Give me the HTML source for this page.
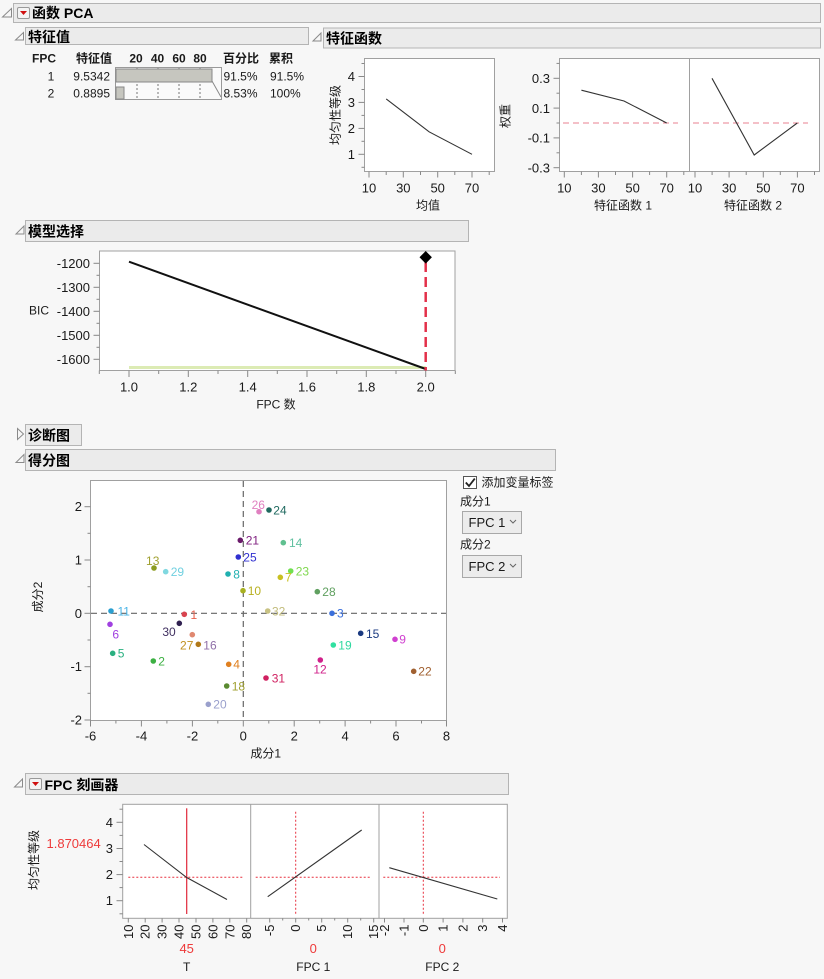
<!DOCTYPE html>
<html><head><meta charset="utf-8"><style>
html,body{margin:0;padding:0;background:#f7f7f7;}
svg{display:block;}
text{font-family:"Liberation Sans","Noto Sans CJK SC",sans-serif;fill:#1a1a1a;}
.h{font-size:14px;font-weight:bold;fill:#000;}
.t{font-size:12px;}
.t13{font-size:13px;}
.b{font-weight:bold;}
.hb{fill:#ebebeb;stroke:#b4b4b4;stroke-width:1;}
.fr{fill:#fff;stroke:#a0a0a0;stroke-width:1;}
.tk{stroke:#888;stroke-width:1;}
.tri{fill:none;stroke:#8a8a8a;stroke-width:1;}
.ln{fill:none;stroke:#333;stroke-width:1.1;}
.red{fill:#ee3a3a;}
</style></head><body>
<svg width="824" height="979" viewBox="0 0 824 979" xmlns="http://www.w3.org/2000/svg">
<rect width="824" height="979" fill="#f7f7f7"/>

<!-- Header: 函数 PCA -->
<polygon class="tri" points="11.5,8.5 2.5,17 11.5,17"/>
<rect class="hb" x="13.5" y="3.5" width="807" height="19"/>
<rect x="17.5" y="7.5" width="12" height="11" rx="1.5" fill="#f4f4f4" stroke="#999"/>
<polygon points="20,11 27,11 23.5,15" fill="#d01010"/>
<text class="h" x="32" y="18">函数 PCA</text>

<!-- 特征值 -->
<polygon class="tri" points="23.5,32.5 15.5,40 23.5,40"/>
<rect class="hb" x="25.5" y="27.5" width="283" height="17"/>
<text class="h" x="28" y="42">特征值</text>

<text class="t b" x="32" y="62.5">FPC</text>
<text class="t b" x="76" y="62.5">特征值</text>
<text class="t b" x="136" y="62.5" text-anchor="middle">20</text>
<text class="t b" x="157.5" y="62.5" text-anchor="middle">40</text>
<text class="t b" x="179" y="62.5" text-anchor="middle">60</text>
<text class="t b" x="200" y="62.5" text-anchor="middle">80</text>
<text class="t b" x="223" y="62.5">百分比</text>
<text class="t b" x="269" y="62.5">累积</text>

<text class="t" x="51" y="80.5" text-anchor="middle">1</text>
<text class="t" x="110" y="80.5" text-anchor="end">9.5342</text>
<text class="t" x="223.5" y="80.5">91.5%</text>
<text class="t" x="270" y="80.5">91.5%</text>
<text class="t" x="51" y="97.5" text-anchor="middle">2</text>
<text class="t" x="110" y="97.5" text-anchor="end">0.8895</text>
<text class="t" x="223.5" y="97.5">8.53%</text>
<text class="t" x="270" y="97.5">100%</text>

<rect x="115.5" y="67.5" width="106" height="32" fill="#fafafa" stroke="#999"/>
<g stroke="#777" stroke-dasharray="2,2">
<line x1="137" y1="68" x2="137" y2="99"/><line x1="158" y1="68" x2="158" y2="99"/>
<line x1="179" y1="68" x2="179" y2="99"/><line x1="200" y1="68" x2="200" y2="99"/>
</g>
<rect x="116" y="69" width="96" height="13" fill="#c6c6bf" stroke="#888"/>
<rect x="116" y="87" width="8" height="12" fill="#c6c6bf" stroke="#888"/>
<polyline points="212,81 221,97" fill="none" stroke="#888"/>

<!-- 特征函数 -->
<polygon class="tri" points="321,33 313,41 321,41"/>
<rect class="hb" x="323.5" y="28" width="497" height="20"/>
<text class="h" x="326" y="43.5">特征函数</text>

<!-- Eigen plot 1 -->
<rect class="fr" x="364.5" y="58.5" width="130" height="113"/>
<g class="tk">
<line x1="358.5" y1="154.3" x2="364.5" y2="154.3"/><line x1="358.5" y1="128.4" x2="364.5" y2="128.4"/>
<line x1="358.5" y1="102.4" x2="364.5" y2="102.4"/><line x1="358.5" y1="76.5" x2="364.5" y2="76.5"/>
<line x1="361.5" y1="167.3" x2="364.5" y2="167.3"/><line x1="361.5" y1="141.3" x2="364.5" y2="141.3"/>
<line x1="361.5" y1="115.4" x2="364.5" y2="115.4"/><line x1="361.5" y1="89.5" x2="364.5" y2="89.5"/>
<line x1="361.5" y1="63.5" x2="364.5" y2="63.5"/>
<line x1="369" y1="171.5" x2="369" y2="177.5"/><line x1="386.2" y1="171.5" x2="386.2" y2="175"/>
<line x1="403.3" y1="171.5" x2="403.3" y2="177.5"/><line x1="420.5" y1="171.5" x2="420.5" y2="175"/>
<line x1="437.7" y1="171.5" x2="437.7" y2="177.5"/><line x1="454.8" y1="171.5" x2="454.8" y2="175"/>
<line x1="472" y1="171.5" x2="472" y2="177.5"/><line x1="489.2" y1="171.5" x2="489.2" y2="175"/>
</g>
<text class="t13" x="355" y="159" text-anchor="end">1</text>
<text class="t13" x="355" y="133" text-anchor="end">2</text>
<text class="t13" x="355" y="107" text-anchor="end">3</text>
<text class="t13" x="355" y="81" text-anchor="end">4</text>
<text class="t13" x="369" y="192.5" text-anchor="middle">10</text>
<text class="t13" x="403.3" y="192.5" text-anchor="middle">30</text>
<text class="t13" x="437.7" y="192.5" text-anchor="middle">50</text>
<text class="t13" x="472" y="192.5" text-anchor="middle">70</text>
<text class="t" x="428" y="209.5" text-anchor="middle">均值</text>
<text class="t" transform="translate(339.5,115) rotate(-90)" text-anchor="middle">均匀性等级</text>
<polyline class="ln" points="386.2,98.9 429.1,131.8 472,154.3"/>

<!-- Eigen plot 2 -->
<rect class="fr" x="559.5" y="58.5" width="260" height="113"/>
<line x1="689.5" y1="58.5" x2="689.5" y2="171.5" stroke="#a0a0a0"/>
<g class="tk">
<line x1="553.5" y1="78.3" x2="559.5" y2="78.3"/><line x1="553.5" y1="108.1" x2="559.5" y2="108.1"/>
<line x1="553.5" y1="137.9" x2="559.5" y2="137.9"/><line x1="553.5" y1="167.7" x2="559.5" y2="167.7"/>
<line x1="556.5" y1="63.4" x2="559.5" y2="63.4"/><line x1="556.5" y1="93.2" x2="559.5" y2="93.2"/>
<line x1="556.5" y1="123" x2="559.5" y2="123"/><line x1="556.5" y1="152.8" x2="559.5" y2="152.8"/>
<line x1="564.3" y1="171.5" x2="564.3" y2="177.5"/><line x1="581.4" y1="171.5" x2="581.4" y2="175"/>
<line x1="598.4" y1="171.5" x2="598.4" y2="177.5"/><line x1="615.5" y1="171.5" x2="615.5" y2="175"/>
<line x1="632.6" y1="171.5" x2="632.6" y2="177.5"/><line x1="649.6" y1="171.5" x2="649.6" y2="175"/>
<line x1="666.7" y1="171.5" x2="666.7" y2="177.5"/><line x1="683.8" y1="171.5" x2="683.8" y2="175"/>
<line x1="695" y1="171.5" x2="695" y2="177.5"/><line x1="712.1" y1="171.5" x2="712.1" y2="175"/>
<line x1="729.1" y1="171.5" x2="729.1" y2="177.5"/><line x1="746.2" y1="171.5" x2="746.2" y2="175"/>
<line x1="763.3" y1="171.5" x2="763.3" y2="177.5"/><line x1="780.3" y1="171.5" x2="780.3" y2="175"/>
<line x1="797.4" y1="171.5" x2="797.4" y2="177.5"/><line x1="814.5" y1="171.5" x2="814.5" y2="175"/>
</g>
<text class="t13" x="550" y="83" text-anchor="end">0.3</text>
<text class="t13" x="550" y="112.8" text-anchor="end">0.1</text>
<text class="t13" x="550" y="142.6" text-anchor="end">-0.1</text>
<text class="t13" x="550" y="172.4" text-anchor="end">-0.3</text>
<text class="t13" x="564.3" y="192.5" text-anchor="middle">10</text>
<text class="t13" x="598.4" y="192.5" text-anchor="middle">30</text>
<text class="t13" x="632.6" y="192.5" text-anchor="middle">50</text>
<text class="t13" x="666.7" y="192.5" text-anchor="middle">70</text>
<text class="t13" x="695" y="192.5" text-anchor="middle">10</text>
<text class="t13" x="729.1" y="192.5" text-anchor="middle">30</text>
<text class="t13" x="763.3" y="192.5" text-anchor="middle">50</text>
<text class="t13" x="797.4" y="192.5" text-anchor="middle">70</text>
<text class="t" x="623" y="209.5" text-anchor="middle">特征函数 1</text>
<text class="t" x="753" y="209.5" text-anchor="middle">特征函数 2</text>
<text class="t" transform="translate(509.5,116) rotate(-90)" text-anchor="middle">权重</text>
<g stroke="#e88090" stroke-width="1" stroke-dasharray="6,4">
<line x1="563" y1="123" x2="678" y2="123"/>
<line x1="693" y1="123" x2="808" y2="123"/>
</g>
<polyline class="ln" points="581.4,90.2 624,101 666.7,123"/>
<polyline class="ln" points="712,78.3 754.2,155 797.3,123"/>

<!-- 模型选择 -->
<polygon class="tri" points="24,226 16,234 24,234"/>
<rect class="hb" x="25.5" y="220.5" width="443" height="21"/>
<text class="h" x="28" y="236.5">模型选择</text>

<rect class="fr" x="99.5" y="251" width="355.5" height="119.5"/>
<g class="tk">
<line x1="93.5" y1="263.3" x2="99.5" y2="263.3"/><line x1="93.5" y1="287.3" x2="99.5" y2="287.3"/>
<line x1="93.5" y1="311.3" x2="99.5" y2="311.3"/><line x1="93.5" y1="335.3" x2="99.5" y2="335.3"/>
<line x1="93.5" y1="359.3" x2="99.5" y2="359.3"/>
<line x1="96.5" y1="275.3" x2="99.5" y2="275.3"/><line x1="96.5" y1="299.3" x2="99.5" y2="299.3"/>
<line x1="96.5" y1="323.3" x2="99.5" y2="323.3"/><line x1="96.5" y1="347.3" x2="99.5" y2="347.3"/>
<line x1="99.3" y1="370.5" x2="99.3" y2="374"/><line x1="129" y1="370.5" x2="129" y2="377"/>
<line x1="158.7" y1="370.5" x2="158.7" y2="374"/><line x1="188.3" y1="370.5" x2="188.3" y2="377"/>
<line x1="218" y1="370.5" x2="218" y2="374"/><line x1="247.7" y1="370.5" x2="247.7" y2="377"/>
<line x1="277.3" y1="370.5" x2="277.3" y2="374"/><line x1="307" y1="370.5" x2="307" y2="377"/>
<line x1="336.7" y1="370.5" x2="336.7" y2="374"/><line x1="366.3" y1="370.5" x2="366.3" y2="377"/>
<line x1="396" y1="370.5" x2="396" y2="374"/><line x1="425.7" y1="370.5" x2="425.7" y2="377"/>
<line x1="455.3" y1="370.5" x2="455.3" y2="374"/>
</g>
<text class="t13" x="90" y="268" text-anchor="end">-1200</text>
<text class="t13" x="90" y="292" text-anchor="end">-1300</text>
<text class="t13" x="90" y="316" text-anchor="end">-1400</text>
<text class="t13" x="90" y="340" text-anchor="end">-1500</text>
<text class="t13" x="90" y="364" text-anchor="end">-1600</text>
<text class="t13" x="129" y="391.5" text-anchor="middle">1.0</text>
<text class="t13" x="188.3" y="391.5" text-anchor="middle">1.2</text>
<text class="t13" x="247.7" y="391.5" text-anchor="middle">1.4</text>
<text class="t13" x="307" y="391.5" text-anchor="middle">1.6</text>
<text class="t13" x="366.3" y="391.5" text-anchor="middle">1.8</text>
<text class="t13" x="425.7" y="391.5" text-anchor="middle">2.0</text>
<text class="t" x="276" y="408.5" text-anchor="middle">FPC 数</text>
<text class="t" x="29" y="314.5">BIC</text>
<line x1="129" y1="367.5" x2="425.7" y2="367.5" stroke="#dcebb4" stroke-width="3"/>
<line x1="129" y1="261.7" x2="425.7" y2="369" stroke="#111" stroke-width="2"/>
<line x1="425.7" y1="262" x2="425.7" y2="370.5" stroke="#e3304a" stroke-width="2.5" stroke-dasharray="10,5"/>
<polygon points="425.7,251 431.9,257.3 425.7,263.6 419.5,257.3" fill="#000"/>

<!-- 诊断图 -->
<polygon class="tri" points="17.5,428.5 23.5,434 17.5,439.5"/>
<rect class="hb" x="25.5" y="424.5" width="56" height="21"/>
<text class="h" x="28" y="440.5">诊断图</text>

<!-- 得分图 -->
<polygon class="tri" points="24,454.5 16,462.5 24,462.5"/>
<rect class="hb" x="25.5" y="449.5" width="530" height="21"/>
<text class="h" x="28" y="465.5">得分图</text>

<rect class="fr" x="90.5" y="480.5" width="356" height="240"/>
<g class="tk">
<line x1="84.5" y1="720" x2="90.5" y2="720"/><line x1="84.5" y1="666.7" x2="90.5" y2="666.7"/>
<line x1="84.5" y1="613.3" x2="90.5" y2="613.3"/><line x1="84.5" y1="560" x2="90.5" y2="560"/>
<line x1="84.5" y1="506.7" x2="90.5" y2="506.7"/>
<line x1="87.5" y1="693.3" x2="90.5" y2="693.3"/><line x1="87.5" y1="640" x2="90.5" y2="640"/>
<line x1="87.5" y1="586.7" x2="90.5" y2="586.7"/><line x1="87.5" y1="533.3" x2="90.5" y2="533.3"/>
<line x1="90.5" y1="720.5" x2="90.5" y2="726.5"/><line x1="115.9" y1="720.5" x2="115.9" y2="723.5"/>
<line x1="141.4" y1="720.5" x2="141.4" y2="726.5"/><line x1="166.9" y1="720.5" x2="166.9" y2="723.5"/>
<line x1="192.4" y1="720.5" x2="192.4" y2="726.5"/><line x1="217.8" y1="720.5" x2="217.8" y2="723.5"/>
<line x1="243.3" y1="720.5" x2="243.3" y2="726.5"/><line x1="268.8" y1="720.5" x2="268.8" y2="723.5"/>
<line x1="294.2" y1="720.5" x2="294.2" y2="726.5"/><line x1="319.7" y1="720.5" x2="319.7" y2="723.5"/>
<line x1="345.1" y1="720.5" x2="345.1" y2="726.5"/><line x1="370.6" y1="720.5" x2="370.6" y2="723.5"/>
<line x1="396" y1="720.5" x2="396" y2="726.5"/><line x1="421.5" y1="720.5" x2="421.5" y2="723.5"/>
<line x1="446.5" y1="720.5" x2="446.5" y2="726.5"/>
</g>
<text class="t13" x="82" y="724.5" text-anchor="end">-2</text>
<text class="t13" x="82" y="671.2" text-anchor="end">-1</text>
<text class="t13" x="82" y="617.8" text-anchor="end">0</text>
<text class="t13" x="82" y="564.5" text-anchor="end">1</text>
<text class="t13" x="82" y="511.2" text-anchor="end">2</text>
<text class="t13" x="90.5" y="740.5" text-anchor="middle">-6</text>
<text class="t13" x="141.4" y="740.5" text-anchor="middle">-4</text>
<text class="t13" x="192.4" y="740.5" text-anchor="middle">-2</text>
<text class="t13" x="243.3" y="740.5" text-anchor="middle">0</text>
<text class="t13" x="294.2" y="740.5" text-anchor="middle">2</text>
<text class="t13" x="345.1" y="740.5" text-anchor="middle">4</text>
<text class="t13" x="396" y="740.5" text-anchor="middle">6</text>
<text class="t13" x="446.5" y="740.5" text-anchor="middle">8</text>
<text class="t" x="265.7" y="757.5" text-anchor="middle">成分1</text>
<text class="t" transform="translate(42,597) rotate(-90)" text-anchor="middle">成分2</text>
<g stroke="#666" stroke-width="1.2" stroke-dasharray="6,4">
<line x1="91" y1="613.3" x2="446" y2="613.3"/>
<line x1="243.3" y1="481" x2="243.3" y2="720"/>
</g>

<!-- points -->
<g>
<circle cx="111" cy="611" r="2.8" fill="#2b9fd0"/><text class="t" x="117.5" y="615.3" style="fill:#4ab4e6">11</text>
<circle cx="184.3" cy="614.3" r="2.8" fill="#d9434f"/><text class="t" x="190.5" y="618.8" style="fill:#e8604c">1</text>
<circle cx="267.7" cy="611" r="2.8" fill="#c8c283"/><text class="t" x="272" y="615.3" style="fill:#c2bc7c">32</text>
<circle cx="332" cy="613.3" r="2.8" fill="#3a6fdc"/><text class="t" x="337" y="617.6" style="fill:#3a6fdc">3</text>
<circle cx="110" cy="624.3" r="2.8" fill="#a040e0"/><text class="t" x="115.7" y="638.3" text-anchor="middle" style="fill:#a040e0">6</text>
<circle cx="179.3" cy="623.3" r="2.8" fill="#302050"/><text class="t" x="169" y="636" text-anchor="middle" style="fill:#403060">30</text>
<circle cx="192.3" cy="634.7" r="2.8" fill="#e08870"/><text class="t" x="186.7" y="649.6" text-anchor="middle" style="fill:#c09020">27</text>
<circle cx="198.3" cy="644.3" r="2.8" fill="#b07818"/><text class="t" x="203.3" y="649.3" style="fill:#9070a8">16</text>
<circle cx="360.7" cy="633.3" r="2.8" fill="#1a3a80"/><text class="t" x="366" y="637.8" style="fill:#1a3a80">15</text>
<circle cx="395" cy="639.3" r="2.8" fill="#d040d0"/><text class="t" x="399.3" y="643.6" style="fill:#d040d0">9</text>
<circle cx="333.3" cy="645" r="2.8" fill="#30e0a0"/><text class="t" x="338.3" y="649.3" style="fill:#30d8a0">19</text>
<circle cx="112.7" cy="653.3" r="2.8" fill="#2ab080"/><text class="t" x="117.7" y="657.6" style="fill:#2ab080">5</text>
<circle cx="153.3" cy="661" r="2.8" fill="#3cb043"/><text class="t" x="158.3" y="665.3" style="fill:#3cb043">2</text>
<circle cx="228.7" cy="664.3" r="2.8" fill="#e08020"/><text class="t" x="233.3" y="668.6" style="fill:#e08020">4</text>
<circle cx="320.3" cy="660" r="2.8" fill="#d0208a"/><text class="t" x="320" y="673.5" text-anchor="middle" style="fill:#d0208a">12</text>
<circle cx="413.7" cy="671.3" r="2.8" fill="#a06030"/><text class="t" x="418.3" y="675.6" style="fill:#a06030">22</text>
<circle cx="266" cy="678" r="2.8" fill="#d02060"/><text class="t" x="271.7" y="682.3" style="fill:#d02060">31</text>
<circle cx="226.7" cy="686" r="2.8" fill="#5a8a30"/><text class="t" x="231.7" y="690.3" style="fill:#a0a030">18</text>
<circle cx="208.3" cy="704.3" r="2.8" fill="#9aa0cc"/><text class="t" x="213.3" y="708.6" style="fill:#9aa0cc">20</text>
<circle cx="259" cy="511.7" r="2.8" fill="#e080c0"/><text class="t" x="258.3" y="509" text-anchor="middle" style="fill:#e080c0">26</text>
<circle cx="269" cy="510" r="2.8" fill="#206a60"/><text class="t" x="273.3" y="514.3" style="fill:#206a60">24</text>
<circle cx="240.3" cy="540.3" r="2.8" fill="#6a1a6a"/><text class="t" x="245.7" y="544.6" style="fill:#802080">21</text>
<circle cx="238.3" cy="557" r="2.8" fill="#3030d0"/><text class="t" x="243.3" y="561.3" style="fill:#3030d0">25</text>
<circle cx="154" cy="568" r="2.8" fill="#8c9c20"/><text class="t" x="152.7" y="565" text-anchor="middle" style="fill:#a0a030">13</text>
<circle cx="165.7" cy="571.7" r="2.8" fill="#80d8e0"/><text class="t" x="170.7" y="576" style="fill:#70d0e0">29</text>
<circle cx="228" cy="574" r="2.8" fill="#20b0b0"/><text class="t" x="233.3" y="578.3" style="fill:#20b0b0">8</text>
<circle cx="243" cy="590.7" r="2.8" fill="#a8b020"/><text class="t" x="247.7" y="595" style="fill:#b8b020">10</text>
<circle cx="283.3" cy="542.7" r="2.8" fill="#60c090"/><text class="t" x="289" y="547" style="fill:#60c0a0">14</text>
<circle cx="290.7" cy="571" r="2.8" fill="#70e050"/><text class="t" x="295.7" y="575.3" style="fill:#80d850">23</text>
<circle cx="280.3" cy="577.3" r="2.8" fill="#c8c020"/><text class="t" x="285" y="581.6" style="fill:#c8c020">7</text>
<circle cx="317.3" cy="591.7" r="2.8" fill="#60a060"/><text class="t" x="322.3" y="596" style="fill:#60a060">28</text>
</g>

<!-- controls -->
<rect x="463.5" y="476.5" width="13" height="12" fill="#fff" stroke="#555"/>
<path d="M465.8,482.5 L469,486 L474.8,478.6" fill="none" stroke="#222" stroke-width="1.8"/>
<text class="t" x="481.5" y="486.5">添加变量标签</text>
<text class="t" x="460" y="505.5">成分1</text>
<rect x="462.5" y="511.5" width="59" height="22" fill="#ececec" stroke="#a8a8a8"/>
<text class="t13" x="468.5" y="527">FPC 1</text>
<polyline points="510,520 513,523 516,520" fill="none" stroke="#666"/>
<text class="t" x="460" y="548.5">成分2</text>
<rect x="462.5" y="555.5" width="59" height="22" fill="#ececec" stroke="#a8a8a8"/>
<text class="t13" x="468.5" y="571">FPC 2</text>
<polyline points="510,564 513,567 516,564" fill="none" stroke="#666"/>

<!-- FPC 刻画器 -->
<polygon class="tri" points="22.5,779 14.5,787 22.5,787"/>
<rect class="hb" x="25.5" y="773.5" width="483" height="21"/>
<rect x="29.5" y="778.5" width="12" height="11" rx="1.5" fill="#f4f4f4" stroke="#999"/>
<polygon points="32,782 39,782 35.5,786" fill="#d01010"/>
<text class="h" x="44.5" y="790">FPC 刻画器</text>

<rect class="fr" x="122.7" y="804.3" width="384.6" height="114"/>
<line x1="250.7" y1="804.3" x2="250.7" y2="918.3" stroke="#a0a0a0"/>
<line x1="379" y1="804.3" x2="379" y2="918.3" stroke="#a0a0a0"/>
<g class="tk">
<line x1="116.5" y1="900.7" x2="122.7" y2="900.7"/><line x1="116.5" y1="874.6" x2="122.7" y2="874.6"/>
<line x1="116.5" y1="848.5" x2="122.7" y2="848.5"/><line x1="116.5" y1="822.3" x2="122.7" y2="822.3"/>
<line x1="119.5" y1="913.8" x2="122.7" y2="913.8"/><line x1="119.5" y1="887.6" x2="122.7" y2="887.6"/>
<line x1="119.5" y1="861.5" x2="122.7" y2="861.5"/><line x1="119.5" y1="835.4" x2="122.7" y2="835.4"/>
<line x1="119.5" y1="809.2" x2="122.7" y2="809.2"/>
<line x1="128.3" y1="918.3" x2="128.3" y2="922.5"/><line x1="145.2" y1="918.3" x2="145.2" y2="922.5"/>
<line x1="162.1" y1="918.3" x2="162.1" y2="922.5"/><line x1="179" y1="918.3" x2="179" y2="922.5"/>
<line x1="196" y1="918.3" x2="196" y2="922.5"/><line x1="212.9" y1="918.3" x2="212.9" y2="922.5"/>
<line x1="229.8" y1="918.3" x2="229.8" y2="922.5"/><line x1="246.7" y1="918.3" x2="246.7" y2="922.5"/>
<line x1="269.7" y1="918.3" x2="269.7" y2="922.5"/><line x1="282.7" y1="918.3" x2="282.7" y2="920.5"/>
<line x1="295.7" y1="918.3" x2="295.7" y2="922.5"/><line x1="308.7" y1="918.3" x2="308.7" y2="920.5"/>
<line x1="321.7" y1="918.3" x2="321.7" y2="922.5"/><line x1="334.7" y1="918.3" x2="334.7" y2="920.5"/>
<line x1="347.7" y1="918.3" x2="347.7" y2="922.5"/><line x1="360.7" y1="918.3" x2="360.7" y2="920.5"/>
<line x1="373.7" y1="918.3" x2="373.7" y2="922.5"/>
<line x1="384.5" y1="918.3" x2="384.5" y2="922.5"/><line x1="404" y1="918.3" x2="404" y2="922.5"/>
<line x1="423.3" y1="918.3" x2="423.3" y2="922.5"/><line x1="443.1" y1="918.3" x2="443.1" y2="922.5"/>
<line x1="462.9" y1="918.3" x2="462.9" y2="922.5"/><line x1="482.7" y1="918.3" x2="482.7" y2="922.5"/>
<line x1="502.5" y1="918.3" x2="502.5" y2="922.5"/>
</g>
<text class="t13" x="113" y="905.2" text-anchor="end">1</text>
<text class="t13" x="113" y="879.1" text-anchor="end">2</text>
<text class="t13" x="113" y="853" text-anchor="end">3</text>
<text class="t13" x="113" y="826.8" text-anchor="end">4</text>
<g class="t13">
<text transform="translate(132.8,924.5) rotate(-90)" text-anchor="end" class="t13">10</text>
<text transform="translate(149.7,924.5) rotate(-90)" text-anchor="end" class="t13">20</text>
<text transform="translate(166.6,924.5) rotate(-90)" text-anchor="end" class="t13">30</text>
<text transform="translate(183.5,924.5) rotate(-90)" text-anchor="end" class="t13">40</text>
<text transform="translate(200.5,924.5) rotate(-90)" text-anchor="end" class="t13">50</text>
<text transform="translate(217.4,924.5) rotate(-90)" text-anchor="end" class="t13">60</text>
<text transform="translate(234.3,924.5) rotate(-90)" text-anchor="end" class="t13">70</text>
<text transform="translate(251.2,924.5) rotate(-90)" text-anchor="end" class="t13">80</text>
<text transform="translate(274.2,924.5) rotate(-90)" text-anchor="end" class="t13">-5</text>
<text transform="translate(300.2,924.5) rotate(-90)" text-anchor="end" class="t13">0</text>
<text transform="translate(326.2,924.5) rotate(-90)" text-anchor="end" class="t13">5</text>
<text transform="translate(352.2,924.5) rotate(-90)" text-anchor="end" class="t13">10</text>
<text transform="translate(378.2,924.5) rotate(-90)" text-anchor="end" class="t13">15</text>
<text transform="translate(389,924.5) rotate(-90)" text-anchor="end" class="t13">-2</text>
<text transform="translate(408.5,924.5) rotate(-90)" text-anchor="end" class="t13">-1</text>
<text transform="translate(427.8,924.5) rotate(-90)" text-anchor="end" class="t13">0</text>
<text transform="translate(447.6,924.5) rotate(-90)" text-anchor="end" class="t13">1</text>
<text transform="translate(467.4,924.5) rotate(-90)" text-anchor="end" class="t13">2</text>
<text transform="translate(487.2,924.5) rotate(-90)" text-anchor="end" class="t13">3</text>
<text transform="translate(507,924.5) rotate(-90)" text-anchor="end" class="t13">4</text>
</g>
<text class="t" transform="translate(38,860) rotate(-90)" text-anchor="middle">均匀性等级</text>
<text class="t13 red" x="46.5" y="848">1.870464</text>

<!-- profiler lines -->
<g stroke="#e8303f" stroke-width="1" stroke-dasharray="2,2" fill="none">
<line x1="128.3" y1="877.3" x2="244.3" y2="877.3"/>
<line x1="255.7" y1="877.3" x2="371.7" y2="877.3"/>
<line x1="295.7" y1="811.7" x2="295.7" y2="914"/>
<line x1="383.3" y1="877.3" x2="500" y2="877.3"/>
<line x1="423.3" y1="811.7" x2="423.3" y2="914"/>
</g>
<line x1="186.7" y1="808.3" x2="186.7" y2="914" stroke="#e0283a" stroke-width="1.2"/>
<polyline class="ln" points="144,844.5 186.7,877.5 227,899.5"/>
<line class="ln" x1="267.7" y1="896.7" x2="361.7" y2="830"/>
<line class="ln" x1="389.3" y1="867.7" x2="497.3" y2="899"/>

<text class="t13 red" x="186.7" y="953" text-anchor="middle">45</text>
<text class="t13 red" x="313.3" y="953" text-anchor="middle">0</text>
<text class="t13 red" x="442.3" y="953" text-anchor="middle">0</text>
<text class="t" x="186.7" y="971" text-anchor="middle">T</text>
<text class="t" x="313.3" y="971" text-anchor="middle">FPC 1</text>
<text class="t" x="442.3" y="971" text-anchor="middle">FPC 2</text>
</svg>
</body></html>
